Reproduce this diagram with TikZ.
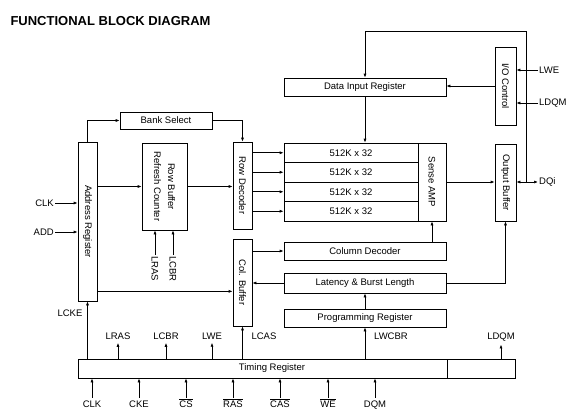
\documentclass[tikz,border=0pt]{standalone}
\usepackage{fontspec}
\setmainfont{Liberation Sans}
\usetikzlibrary{arrows.meta, positioning, calc}
\newcommand{\ovl}[1]{$\overline{\mbox{#1}}$}

\begin{document}
\begin{tikzpicture}[x=1pt, y=-1pt,
    every node/.style={font=\fontsize{9.5}{11}\selectfont},
    blk/.style={draw, line width=0.7pt, inner sep=0pt},
    arr/.style={-{Latex[length=4pt, width=3pt]}, line width=0.7pt},
    sig/.style={inner sep=1pt}]
  \useasboundingbox (0,0) rectangle (579,415);
  \node[anchor=base west, font=\fontsize{13}{15}\selectfont\bfseries] (title) at (7,25) {FUNCTIONAL BLOCK DIAGRAM};

  % blocks
  \node[blk, minimum width=92pt, minimum height=17pt] (bank) at (166,120.5) {Bank Select};
  \node[blk, minimum width=162pt, minimum height=18pt] (datain) at (365,87) {Data Input Register};
  \node[blk, minimum width=21pt, minimum height=78pt, label={[rotate=-90]center:I/O Control}] (ioctl) at (505.5,86) {};
  \node[blk, minimum width=19pt, minimum height=159pt, label={[rotate=-90]center:Address Register}] (addr) at (87.5,221.5) {};
  \node[blk, minimum width=45pt, minimum height=87pt,
        label={[rotate=-90, align=center, font=\fontsize{9.5}{14}\selectfont]center:Row Buffer\\Refresh Counter}] (rowbuf) at (164.5,186.5) {};
  \node[blk, minimum width=19pt, minimum height=87pt, label={[rotate=-90]center:Row Decoder}] (rowdec) at (242.5,185.5) {};
  \node[blk, minimum width=19pt, minimum height=87pt, label={[rotate=-90]center:Col. Buffer}] (colbuf) at (242.5,282.5) {};
  \foreach \i/\y in {1/152.75, 2/172.25, 3/191.75, 4/211.25}
    \node[blk, minimum width=134pt, minimum height=19.5pt] (cell\i) at (351,\y) {512K x 32};
  \node[blk, minimum width=28pt, minimum height=78pt, label={[rotate=-90]center:Sense AMP}] (sense) at (432,182) {};
  \node[blk, minimum width=21pt, minimum height=77pt, label={[rotate=-90]center:Output Buffer}] (outbuf) at (505.5,182.5) {};
  \node[blk, minimum width=162pt, minimum height=18pt] (coldec) at (365,251) {Column Decoder};
  \node[blk, minimum width=162pt, minimum height=20pt] (latency) at (365,283) {Latency \& Burst Length};
  \node[blk, minimum width=162pt, minimum height=18pt] (prog) at (365,318) {Programming Register};
  \node[blk, minimum width=369pt, minimum height=19pt, label={[xshift=9.5pt]center:Timing Register}] (timing) at (262.5,368.5) {};
  \node[blk, minimum width=68pt, minimum height=19pt] (timext) at (481,368.5) {};

  % data path
  \coordinate (dqjoin) at (526,182);
  \coordinate (bustop) at (526,31);
  \draw[arr] (dqjoin) -- (bustop) -| (datain.north);
  \draw[arr] (ioctl.west) -- (ioctl.west -| datain.east);
  \draw[arr] (datain.south) -- (datain.south |- cell1.north);
  \draw[arr] (addr.north) |- (bank.west);
  \draw[arr] (bank.east) -| (rowdec.north);
  \draw[arr] (addr.east |- rowbuf.west) -- (rowbuf.west);
  \draw[arr] (rowbuf.east) -- (rowbuf.east -| rowdec.west);
  \foreach \i in {1,...,4}
    \draw[arr] (rowdec.east |- cell\i) -- (cell\i.west);
  \draw[arr] (colbuf.east |- coldec) -- (coldec.west);
  \draw[arr] (latency.west) -- (latency.west -| colbuf.east);
  \coordinate (addrout) at ([yshift=10pt]addr.south east);
  \draw[arr] (addrout) -- (addrout -| colbuf.west);
  \draw[arr] (sense.south |- coldec.north) -- (sense.south);
  \draw[arr] (sense.east) -- (sense.east -| outbuf.west);
  \draw[arr] (latency.east) -| (outbuf.south);
  \draw[arr] (prog.north) -- (latency.south);
  \draw[arr] (timing.north -| addr.south) -- (addr.south);
  \draw[arr] (timing.north -| colbuf.south) -- (colbuf.south);
  \draw[arr] (timing.north -| prog.south) -- (prog.south);

  % signals
  \node[sig, anchor=east] (clk) at (55,203) {CLK};
  \node[sig, anchor=east] (add) at (55,232) {ADD};
  \draw[arr] (clk) -- (clk -| addr.west);
  \draw[arr] (add) -- (add -| addr.west);
  \node[sig, anchor=west] (lwe) at (538,70) {LWE};
  \node[sig, anchor=west] (ldqm) at (538,103) {LDQM};
  \draw[arr] (lwe) -- (lwe -| ioctl.east);
  \draw[arr] (ldqm) -- (ldqm -| ioctl.east);
  \node[sig, anchor=west] (dqi) at (538,182) {DQi};
  \draw[{Latex[length=4pt, width=3pt]}-{Latex[length=4pt, width=3pt]}, line width=0.7pt] (outbuf.east |- dqi) -- (dqi);
  \foreach \n/\x/\t in {lras/155/LRAS, lcbr/173/LCBR} {
    \node[sig, rotate=-90, anchor=west] (\n) at (\x,255) {\t};
    \draw[arr] (\n.west) -- (\n.west |- rowbuf.south);
  }
  \foreach \n/\x/\t in {tlras/118/LRAS, tlcbr/166/LCBR, tlwe/212/LWE} {
    \node[sig, inner ysep=3pt, anchor=base] (\n) at (\x,339.5) {\t};
    \draw[arr] (timing.north -| \n) -- (\n.south);
  }
  \node[sig, inner ysep=3pt, anchor=base] (tldqm) at (501,339.5) {LDQM};
  \draw[arr] (timext.north -| tldqm) -- (tldqm.south);
  \node[sig, anchor=base] (lcas) at (264,339.5) {LCAS};
  \node[sig, anchor=base] (lwcbr) at (391,339.5) {LWCBR};
  \node[sig, anchor=base] (lcke) at (70,316) {LCKE};
  \foreach \n/\x/\t in {iclk/92/CLK, icke/139/CKE, ics/186/\ovl{CS}, iras/233/\ovl{RAS},
                        icas/280/\ovl{CAS}, iwe/328/\ovl{WE}, idqm/375/DQM} {
    \node[sig, anchor=base, text height=8pt] (\n) at (\x,407) {\t};
    \draw[arr] (\n.north) -- (\n.north |- timing.south);
  }
\end{tikzpicture}
\end{document}
